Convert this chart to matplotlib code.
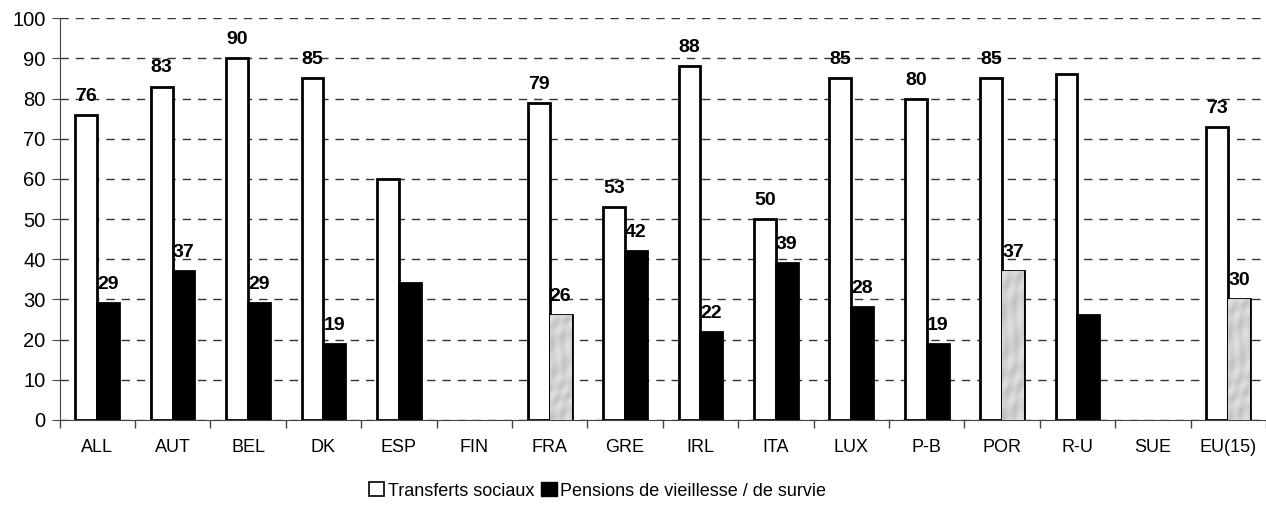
import matplotlib.pyplot as plt
import numpy as np
from matplotlib.patches import Patch

plt.rcParams['font.family'] = ['Liberation Sans', 'DejaVu Sans']

pays = ['ALL', 'AUT', 'BEL', 'DK', 'ESP', 'FIN', 'FRA', 'GRE', 'IRL', 'ITA',
        'LUX', 'P-B', 'POR', 'R-U', 'SUE', 'EU(15)']
transferts = [76, 83, 90, 85, 60, np.nan, 79, 53, 88, 50, 85, 80, 85, 86, np.nan, 73]
pensions = [29, 37, 29, 19, 34, np.nan, 26, 42, 22, 39, 28, 19, 37, 26, np.nan, 30]
# barres sans etiquette de valeur
sans_etiquette = ['ESP', 'R-U']
# barres de pensions en gris marbre
marbre = ['FRA', 'POR', 'EU(15)']

fig = plt.figure(figsize=(12.66, 5.21), dpi=100)
ax = fig.add_axes([0.047, 0.194, 0.953, 0.771])

x = np.arange(len(pays))
w = 0.29
ax.bar(x - w / 2, transferts, w, color='white', edgecolor='black', linewidth=2, zorder=3)
cols = ['#d2d2d2' if p in marbre else 'black' for p in pays]
barres = ax.bar(x + w / 2, pensions, w, color=cols, edgecolor='black', linewidth=2, zorder=3)

# texture marbre sur les barres grises
yy, xx = np.mgrid[0:120, 0:24]
veines = np.sin(xx * 0.35 + yy * 0.18 + 2 * np.sin(yy * 0.07)) * np.cos(yy * 0.11 - xx * 0.2)
tex = 0.82 + 0.06 * veines
for b, p in zip(barres, pays):
    if p in marbre:
        im = ax.imshow(tex, cmap='gray', vmin=0, vmax=1, aspect='auto', zorder=3.5,
                       interpolation='bicubic',
                       extent=[b.get_x(), b.get_x() + b.get_width(), 0, b.get_height()])
        im.set_clip_path(b)

for i, p in enumerate(pays):
    if p in sans_etiquette:
        continue
    if not np.isnan(transferts[i]):
        ax.text(x[i] - w / 2, transferts[i] + 2.5, f'{transferts[i]:.0f}', ha='center',
                va='bottom', fontsize=14, fontweight='bold', zorder=5)
    if not np.isnan(pensions[i]):
        ax.text(x[i] + w / 2, pensions[i] + 2.5, f'{pensions[i]:.0f}', ha='center',
                va='bottom', fontsize=14, fontweight='bold', zorder=5)

ax.set_ylim(0, 100)
ax.set_yticks(range(0, 101, 10))
ax.set_xlim(-0.5, len(pays) - 0.5)
ax.set_xticks(x)
ax.set_xticklabels(pays)
ax.set_xticks(np.arange(-0.5, len(pays), 1), minor=True)
ax.tick_params(axis='x', which='major', length=0, labelsize=13, pad=14)
ax.tick_params(axis='x', which='minor', length=6, width=1, color='#444444')
ax.tick_params(axis='y', labelsize=14.5, length=6, color='#444444', pad=4)
ax.yaxis.grid(True, linestyle=(0, (6, 5)), color='#333333', linewidth=1, zorder=0)
for s in ['top', 'right']:
    ax.spines[s].set_visible(False)
ax.spines['left'].set_color('#444444')
ax.spines['bottom'].set_color('#444444')

handles = [Patch(facecolor='white', edgecolor='black', linewidth=1.2),
           Patch(facecolor='black', edgecolor='black')]
fig.legend(handles, ['Transferts sociaux', 'Pensions de vieillesse / de survie'],
           loc='center', bbox_to_anchor=(0.472, 0.058), ncol=2, frameon=False,
           fontsize=13, handlelength=0.85, handleheight=0.85, handletextpad=0.2,
           columnspacing=0.4)

fig.savefig('out.png', dpi=100)
